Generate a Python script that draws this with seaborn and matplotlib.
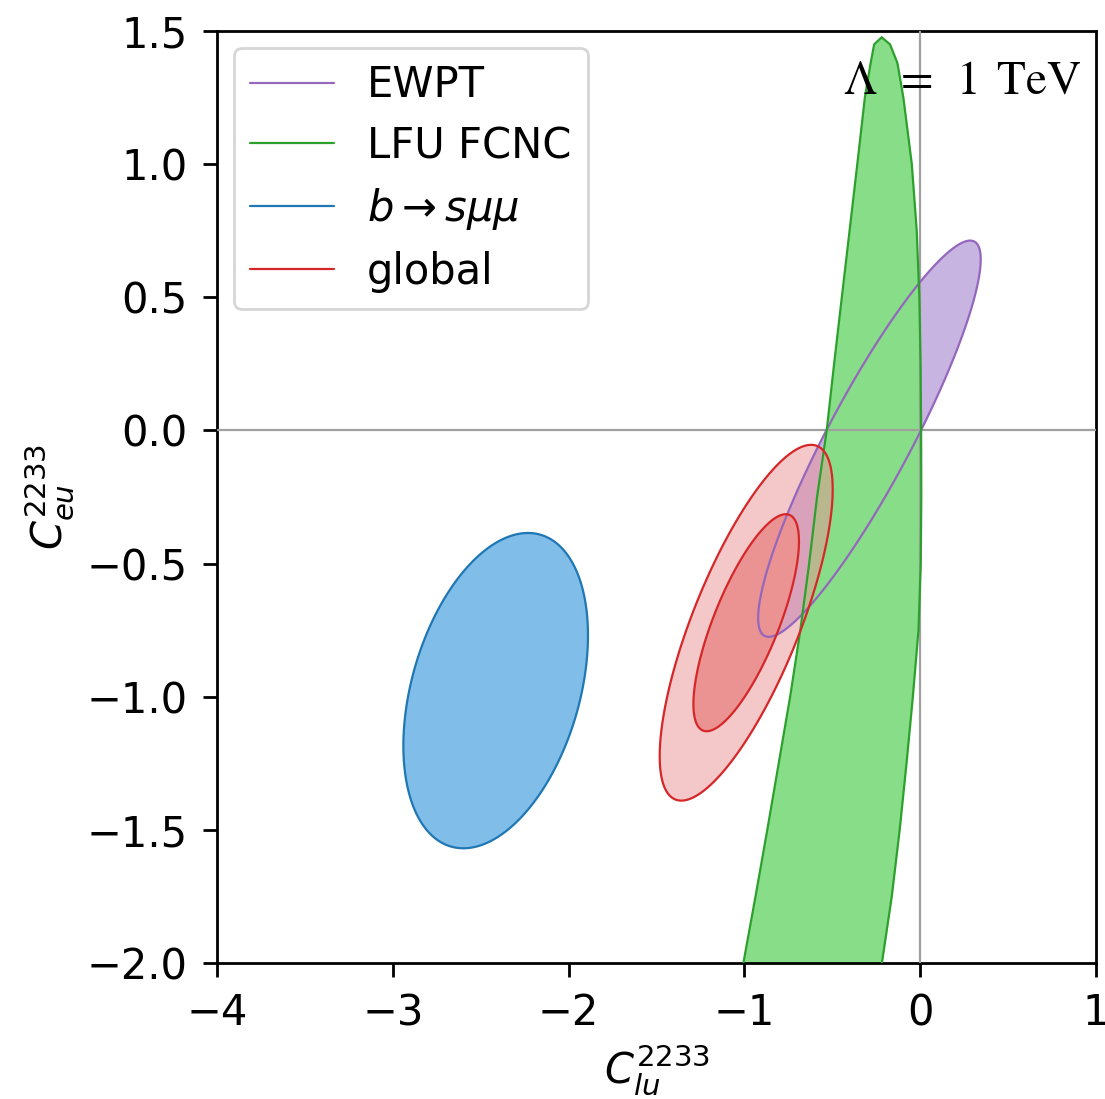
import numpy as np
import matplotlib
matplotlib.use("Agg")
import matplotlib.pyplot as plt
import seaborn as sns
from matplotlib.lines import Line2D

# ---------------- data ----------------
series = ["EWPT", "LFU FCNC", r"$b\to s\mu\mu$", "global"]
edge_colors = ["#9467bd", "#2ca02c", "#1f77b4", "#d62728"]

# Gaussian fits: centre, half-extent of the drawn contour, correlation
ewpt_center = (-0.289, -0.031)
ewpt_extent = (0.633, 0.744)      # at delta chi2 = 2.30
ewpt_rho = 0.905

bsmm_center = (-2.415, -0.977)
bsmm_extent = (0.525, 0.592)      # at delta chi2 = 2.30
bsmm_rho = 0.35

glob_center = (-0.99, -0.722)
glob_extent = (0.492, 0.668)      # at delta chi2 = 6.18 (2 sigma)
glob_rho = 0.75

# LFU FCNC allowed band (boundary)
lfu_y = [1.476, 1.45, 1.38, 1.25, 1.0, 0.75, 0.5, 0.25, 0.0, -0.25, -0.5,
         -0.75, -1.0, -1.25, -1.5, -1.75, -2.0]
lfu_left = [-0.219, -0.262, -0.282, -0.315, -0.358, -0.402, -0.446, -0.49,
            -0.532, -0.587, -0.632, -0.682, -0.74, -0.805, -0.870, -0.937, -1.006]
lfu_right = [-0.219, -0.172, -0.130, -0.096, -0.048, -0.020, -0.005, 0.002,
             0.005, 0.006, 0.003, -0.010, -0.042, -0.078, -0.117, -0.162, -0.218]

x_ticks = [-4, -3, -2, -1, 0, 1]
y_ticks = [-2.0, -1.5, -1.0, -0.5, 0.0, 0.5, 1.0, 1.5]

# ---------------- style ----------------
sns.set_style("ticks")
plt.rcParams["font.family"] = ["DejaVu Sans"]
plt.rcParams["axes.edgecolor"] = "black"
plt.rcParams["xtick.color"] = "black"
plt.rcParams["ytick.color"] = "black"
plt.rcParams["text.color"] = "black"
plt.rcParams["axes.labelcolor"] = "black"
plt.rcParams["mathtext.fontset"] = "dejavusans"

fig = plt.figure(figsize=(5.525, 5.495), dpi=200)
ax = fig.add_axes([0.1964, 0.1237, 0.7955, 0.8481])

gx = np.linspace(-4, 1, 700)
gy = np.linspace(-2, 1.5, 700)
X, Y = np.meshgrid(gx, gy)


def chi2(c, ext, rho, level):
    sx = ext[0] / np.sqrt(level)
    sy = ext[1] / np.sqrt(level)
    u = (X - c[0]) / sx
    v = (Y - c[1]) / sy
    return (u * u - 2 * rho * u * v + v * v) / (1 - rho ** 2)


z_ewpt = chi2(ewpt_center, ewpt_extent, ewpt_rho, 2.30)
z_bsmm = chi2(bsmm_center, bsmm_extent, bsmm_rho, 2.30)
z_glob = chi2(glob_center, glob_extent, glob_rho, 6.18)

# fills
ax.contourf(X, Y, z_ewpt, levels=[0, 2.30], colors=["#c8b4e0"], zorder=1)
ax.fill_betweenx(lfu_y, lfu_left, lfu_right, color="#88de88", lw=0, zorder=2)
ax.contourf(X, Y, z_bsmm, levels=[0, 2.30], colors=["#80bde8"], zorder=2)
ax.contourf(X, Y, z_glob, levels=[0, 6.18], colors=[(235/255, 145/255, 149/255)],
            alpha=0.5, zorder=3)
ax.contourf(X, Y, z_glob, levels=[0, 2.30], colors=[(235/255, 147/255, 147/255)],
            zorder=3.1)

# zero lines
ax.axhline(0, color="#a0a0a0", lw=0.8, zorder=4)
ax.axvline(0, color="#a0a0a0", lw=0.8, zorder=4)

# edges
lw = 0.8
ax.contour(X, Y, z_ewpt, levels=[2.30], colors=[edge_colors[0]], linewidths=lw, zorder=5)
sns.lineplot(x=lfu_left, y=lfu_y, sort=False, estimator=None, color=edge_colors[1],
             lw=lw, ax=ax, zorder=5)
sns.lineplot(x=lfu_right, y=lfu_y, sort=False, estimator=None, color=edge_colors[1],
             lw=lw, ax=ax, zorder=5)
ax.contour(X, Y, z_bsmm, levels=[2.30], colors=[edge_colors[2]], linewidths=lw, zorder=5)
ax.contour(X, Y, z_glob, levels=[2.30, 6.18], colors=[edge_colors[3]], linewidths=lw, zorder=5)

ax.set_xlim(-4, 1)
ax.set_ylim(-2, 1.5)
ax.set_xticks(x_ticks)
ax.set_yticks(y_ticks)
ax.tick_params(labelsize=15, length=5, width=1.0, direction="out", pad=5.5)
for s in ax.spines.values():
    s.set_linewidth(1.0)
    s.set_visible(True)

ax.set_xlabel(r"$C_{lu}^{2233}$", fontsize=15, labelpad=3)
ax.set_ylabel(r"$C_{eu}^{2233}$", fontsize=15, labelpad=4)

ax.text(0.984, 0.933, r"$\Lambda\enspace{=}\enspace1\enspace\mathrm{TeV}$",
        transform=ax.transAxes, ha="right", va="baseline", fontsize=17,
        math_fontfamily="stix", zorder=6)

handles = [Line2D([], [], color=c, lw=lw) for c in edge_colors]
leg = ax.legend(handles, series, loc="upper left", fontsize=15, frameon=True,
                fancybox=True, edgecolor="#cccccc", framealpha=0.8,
                labelspacing=0.45, borderaxespad=0.4)
leg.get_frame().set_linewidth(1.0)

fig.savefig("out.png", dpi=200)
